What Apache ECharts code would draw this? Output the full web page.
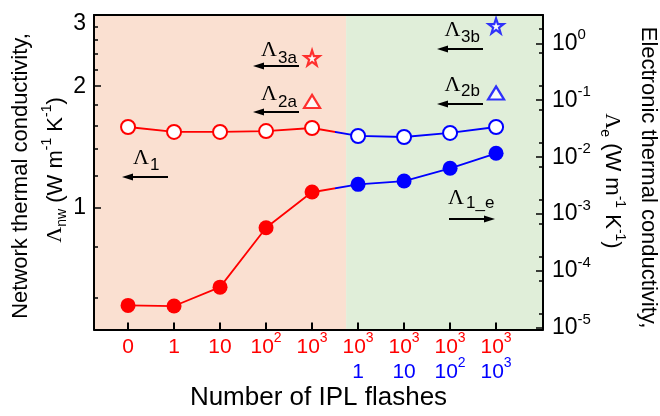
<!DOCTYPE html>
<html><head><meta charset="utf-8">
<script src="https://cdn.jsdelivr.net/npm/echarts@6/dist/echarts.min.js"></script>
<style>html,body{margin:0;padding:0;background:#fff}#c{width:660px;height:416px}</style>
</head><body><div id="c"></div>
<script>
// ---------- data ----------
const xTopLabels = ['0', '1', '10', '10^2', '10^3', '10^3', '10^3', '10^3', '10^3'];
const xBottomLabels = ['', '', '', '', '', '1', '10', '10^2', '10^3'];
const leftTickLabels = [1, 2, 3];
const rightTickLabels = [1e-5, 1e-4, 1e-3, 1e-2, 1e-1, 1];
// open circles (left axis, W m^-1 K^-1)
const openCircle = [1.585, 1.541, 1.541, 1.549, 1.576, 1.506, 1.497, 1.532, 1.585];
// filled red circles (left axis), indices 0-4
const filledRed = [0.573, 0.571, 0.636, 0.892, 1.094];
// filled blue circles (right axis), indices 5-8
const filledBlue = [0.00333, 0.00381, 0.00637, 0.0117];
// right-axis reading of the red filled point at index 4 (start of connecting segment)
const filledBlueStart = 0.00242;
// isolated markers (left axis)
const lambda3a = 2.35, lambda2a = 1.834, lambda3b = 2.82, lambda2b = 1.924;

// ---------- style ----------
const RED = '#ff0000', BLUE = '#0000ff';
const SANS = '"Liberation Sans", Arial, sans-serif';
const SERIF = '"Liberation Serif", "Times New Roman", serif';
const X_MIN = -0.74, X_MAX = 9.02, SHADE_SPLIT = 4.74;
const STAR = 'path://M50,3 L61.8,38.2 L98,38.2 L68.8,59.9 L79.4,95 L50,73.5 L20.6,95 L31.2,59.9 L2,38.2 L38.2,38.2 Z';

function supText(lab, main, sup) {
  if (!lab) return '';
  const p = lab.split('^');
  return p.length > 1 ? `{${main}|${p[0]}}{${sup}|${p[1]}}` : `{${main}|${p[0]}}`;
}
const xIdx = xTopLabels.map((_, i) => i);
const LEFT_MAX_LABEL = leftTickLabels[leftTickLabels.length - 1];

const openData = openCircle.map((v, i) => ({
  value: [i, v], itemStyle: { color: '#fff', borderColor: i < 5 ? RED : BLUE, borderWidth: 2 }
}));
const redData = filledRed.map((v, i) => ({ value: [i, v], itemStyle: { color: RED } }));
const blueData = [{ value: [4, filledBlueStart], symbol: 'none' }].concat(
  filledBlue.map((v, i) => ({ value: [5 + i, v], itemStyle: { color: BLUE } })));

const minorLeft = [0.6, 0.8, 1.2, 1.4, 1.6, 1.8, 2.2, 2.4, 2.6, 2.8];
const minorRight = [];
rightTickLabels.forEach(d => { minorRight.push(d * 1.8); minorRight.push(d * 0.67); });

// ---------- annotations ----------
function lam(cx, cy, sub, subX, subY) {
  return [
    { type: 'text', x: cx, y: cy, z: 100, style: { text: '\u039B', font: '22px ' + SERIF, fill: '#000', align: 'center', verticalAlign: 'middle' } },
    { type: 'text', x: subX, y: subY, z: 100, style: { text: sub, font: '17px ' + SANS, fill: '#000', align: 'left', verticalAlign: 'middle' } }
  ];
}
function arrow(x1, x2, y, headLeft) {
  const tip = headLeft ? x1 : x2, dir = headLeft ? 1 : -1;
  return [
    { type: 'line', z: 100, shape: { x1: headLeft ? x1 + 6 : x1, y1: y, x2: headLeft ? x2 : x2 - 6, y2: y }, style: { stroke: '#000', lineWidth: 2 } },
    { type: 'polygon', z: 100, shape: { points: [[tip, y], [tip + dir * 11, y - 3.5], [tip + dir * 11, y + 3.5]] }, style: { fill: '#000' } }
  ];
}
const nameRich = {
  L: { fontFamily: SERIF, fontSize: 22, lineHeight: 30, fill: '#000' },
  m: { fontFamily: SANS, fontSize: 22, lineHeight: 30, fill: '#000' },
  sub: { fontFamily: SANS, fontSize: 14, lineHeight: 10, padding: [14, 0, 0, 0], fill: '#000' },
  sup: { fontFamily: SANS, fontSize: 14, lineHeight: 10, padding: [0, 0, 16, 0], fill: '#000' }
};
function nameText(cx, cy, rot, text) {
  return { type: 'text', x: cx, y: cy, rotation: rot, z: 100,
    style: { text: text, rich: nameRich, font: '22px ' + SANS, fill: '#000', align: 'center', verticalAlign: 'middle' } };
}

const graphics = [].concat(
  lam(269, 50, '3a', 278, 58), arrow(253, 299, 66, true),
  lam(269, 94, '2a', 278, 102), arrow(253, 299, 112, true),
  lam(141, 158.5, '1', 150, 165), arrow(122, 168, 177, true),
  lam(452.5, 30.5, '3b', 461, 37.5), arrow(437, 483, 49, true),
  lam(452.5, 85.5, '2b', 461, 91), arrow(437, 483, 104, true),
  lam(456, 198.5, '1_e', 466, 203), arrow(449, 495, 219, false),
  [
    nameText(20.5, 176, Math.PI / 2, '{m|Network thermal conductivity,}'),
    nameText(55.5, 170, Math.PI / 2, '{L|\u039B}{sub|nw}{m| (W m}{sup|-1}{m| K}{sup|-1}{m|)}'),
    nameText(648.5, 177.5, -Math.PI / 2, '{m|Electronic thermal conductivity,}'),
    nameText(612, 181, -Math.PI / 2, '{L|\u039B}{sub|e}{m| (W m}{sup|-1}{m| K}{sup|-1}{m|)}')
  ]
);

const axisLineStyle = { color: '#000', width: 2 };
const chart = echarts.init(document.getElementById('c'), null, { renderer: 'canvas' });
chart.setOption({
  animation: false,
  backgroundColor: '#fff',
  grid: { left: 94, right: 117, top: 15, bottom: 86.5, containLabel: false, outerBoundsMode: 'none' },
  visualMap: {
    type: 'piecewise', show: false, dimension: 0, seriesIndex: [0, 2],
    pieces: [{ gte: -5, lt: 4.5, color: RED }, { gte: 4.5, lte: 20, color: BLUE }]
  },
  xAxis: [
    {
      type: 'value', min: X_MIN, max: X_MAX, position: 'bottom', z: 10,
      name: 'Number of IPL flashes', nameLocation: 'middle', nameGap: 55, nameMoveOverlap: false,
      nameTextStyle: { fontFamily: SANS, fontSize: 26, color: '#000' },
      axisLine: { onZero: false, lineStyle: axisLineStyle },
      axisTick: { customValues: xIdx, inside: true, length: 7, lineStyle: { color: '#000', width: 2 } },
      splitLine: { show: false },
      axisLabel: {
        customValues: xIdx, margin: 5,
        formatter: v => {
          const i = Math.round(v);
          const top = supText(xTopLabels[i], 'r', 'rs');
          const bot = supText(xBottomLabels[i], 'b', 'bs');
          return bot ? top + '\n' + bot : top;
        },
        rich: {
          r: { color: RED, fontFamily: SANS, fontSize: 21, lineHeight: 25 },
          rs: { color: RED, fontFamily: SANS, fontSize: 14, lineHeight: 8, padding: [0, 0, 17, 0] },
          b: { color: BLUE, fontFamily: SANS, fontSize: 21, lineHeight: 25 },
          bs: { color: BLUE, fontFamily: SANS, fontSize: 14, lineHeight: 8, padding: [0, 0, 17, 0] }
        }
      }
    },
    {
      type: 'value', min: X_MIN, max: X_MAX, position: 'top', z: 10,
      axisLine: { onZero: false, lineStyle: axisLineStyle }, axisTick: { show: false }, axisLabel: { show: false }, splitLine: { show: false }
    }
  ],
  yAxis: [
    {
      type: 'log', logBase: 10, min: 0.4995, max: 3.002, position: 'left', z: 10,
      axisLine: { show: true, onZero: false, lineStyle: axisLineStyle },
      axisTick: { customValues: leftTickLabels, inside: true, length: 7, lineStyle: { color: '#000', width: 1.5 } },
      splitLine: { show: false }, minorTick: { show: false },
      axisLabel: {
        customValues: leftTickLabels.filter(v => v !== LEFT_MAX_LABEL), margin: 8,
        fontFamily: SANS, fontSize: 23, color: '#000'
      }
    },
    {
      type: 'log', logBase: 10, min: 0.4995, max: 3.002, position: 'left', z: 10,
      axisLine: { show: false, onZero: false },
      axisTick: { customValues: minorLeft, inside: true, length: 4, lineStyle: { color: '#000', width: 1.5 } },
      axisLabel: { show: false }, splitLine: { show: false }
    },
    {
      type: 'log', logBase: 10, min: 9.4e-6, max: 3.14, position: 'right', z: 10,
      axisLine: { show: true, onZero: false, lineStyle: axisLineStyle },
      axisTick: { customValues: rightTickLabels, inside: true, length: 7, lineStyle: { color: '#000', width: 1.5 } },
      splitLine: { show: false },
      axisLabel: {
        customValues: rightTickLabels, margin: 9,
        formatter: v => '{b|10}{s|' + Math.round(Math.log10(v)) + '}',
        rich: {
          b: { fontFamily: SANS, fontSize: 23, color: '#000', lineHeight: 31 },
          s: { fontFamily: SANS, fontSize: 15, color: '#000', lineHeight: 15, padding: [0, 0, 17, 0] }
        }
      }
    },
    {
      type: 'log', logBase: 10, min: 9.4e-6, max: 3.14, position: 'right', z: 10,
      axisLine: { show: false, onZero: false },
      axisTick: { customValues: minorRight, inside: true, length: 4, lineStyle: { color: '#000', width: 1.5 } },
      axisLabel: { show: false }, splitLine: { show: false }
    }
  ],
  series: [
    {
      name: 'open', type: 'line', yAxisIndex: 0, data: openData, symbol: 'circle', symbolSize: 14,
      lineStyle: { width: 1.8 }, z: 3,
      markArea: {
        silent: true, z: 1,
        data: [
          [{ xAxis: X_MIN, itemStyle: { color: '#fae0d1' } }, { xAxis: SHADE_SPLIT }],
          [{ xAxis: SHADE_SPLIT, itemStyle: { color: '#e0eed9' } }, { xAxis: X_MAX }]
        ]
      }
    },
    {
      name: 'filledRed', type: 'line', yAxisIndex: 0, data: redData, symbol: 'circle', symbolSize: 15,
      lineStyle: { width: 1.8, color: RED }, itemStyle: { color: RED }, z: 4
    },
    {
      name: 'filledBlue', type: 'line', yAxisIndex: 2, data: blueData, symbol: 'circle', symbolSize: 15,
      lineStyle: { width: 1.8 }, z: 3
    },
    {
      name: 'markersA', type: 'scatter', yAxisIndex: 0, z: 5,
      data: [
        { value: [4, lambda3a], symbol: STAR, symbolSize: 15 },
        { value: [4, lambda2a], symbol: 'triangle', symbolSize: [16, 13] }
      ],
      itemStyle: { color: '#fff', borderColor: RED, borderWidth: 2.2 }
    },
    {
      name: 'markersB', type: 'scatter', yAxisIndex: 0, z: 5,
      data: [
        { value: [8, lambda3b], symbol: STAR, symbolSize: 15 },
        { value: [8, lambda2b], symbol: 'triangle', symbolSize: [16, 13] }
      ],
      itemStyle: { color: '#fff', borderColor: BLUE, borderWidth: 2.2 }
    }
  ],
  graphic: graphics
});

// the top tick label of the left axis sits just below its tick (as in the reference)
const topLabelY = chart.convertToPixel({ yAxisIndex: 0 }, LEFT_MAX_LABEL);
chart.setOption({
  graphic: graphics.concat([{
    type: 'text', x: 86, y: topLabelY + 8.5, z: 100,
    style: { text: String(LEFT_MAX_LABEL), font: '23px ' + SANS, fill: '#000', align: 'right', verticalAlign: 'middle' }
  }])
});
</script>
</body></html>
